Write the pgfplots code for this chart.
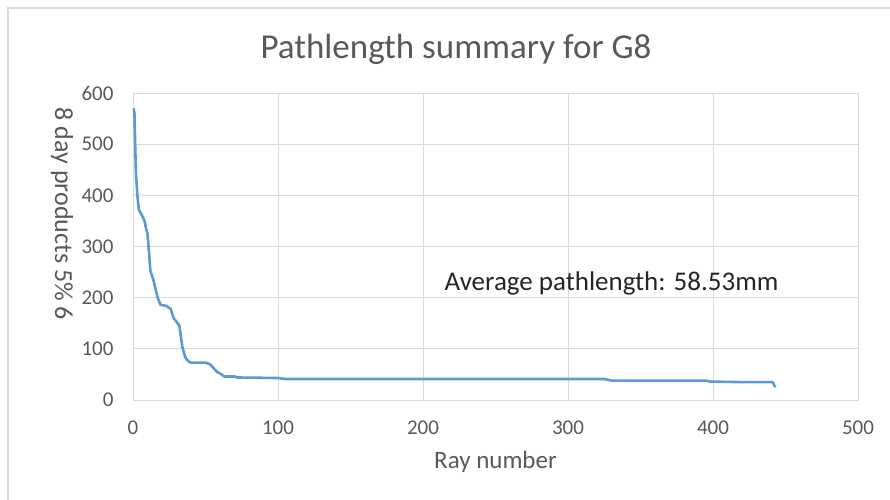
\documentclass[border=0pt]{standalone}
\usepackage{pgfplots}
\pgfplotsset{compat=1.18}
\usepackage{fontspec}
\setmainfont{Carlito}
\definecolor{exblue}{HTML}{5B9BD5}
\definecolor{txtgray}{HTML}{595959}
\definecolor{gridgray}{HTML}{D9D9D9}
\begin{document}
\begin{tikzpicture}[x=1pt,y=1pt]
\useasboundingbox (0,0) rectangle (890,499);
\fill[white] (0,0) rectangle (890,499);
\draw[gridgray, line width=1.2pt] (8,-2) -- (8,491) -- (892,491);
\node[txtgray, font=\fontsize{35}{40}\selectfont] at (456,450) {Pathlength summary for G8};
\node[txtgray, font=\fontsize{26}{30}\selectfont, rotate=-90] at (62,285) {8 day products 5\% 6};
\begin{axis}[
  at={(133pt,99pt)}, anchor=origin,
  scale only axis, width=725pt, height=307pt,
  xmin=0, xmax=500, ymin=0, ymax=600,
  xtick={0,100,...,500}, ytick={0,100,...,600},
  grid=major,
  major grid style={gridgray, line width=1pt},
  axis line style={gridgray, line width=1pt},
  tick style={draw=none},
  ticklabel style={txtgray, font=\fontsize{21}{24}\selectfont},
  /pgf/number format/assume math mode=true,
  xticklabel style={yshift=-17pt},
  yticklabel style={xshift=-16pt},
  xlabel={Ray number},
  xlabel style={txtgray, font=\fontsize{25}{28}\selectfont, at={(axis description cs:0.5,0)}, anchor=center, yshift=-62pt},
  clip=false,
]
\addplot[exblue, line width=2.6pt, line join=round] coordinates {
(0.5,570) (1,560) (1.5,500) (2,445) (3,400) (4,372) (6,362) (8,350) (9,335) (10,325) (11,290) (12,252) (14,235) (16,212) (17,200) (19,186) (23,184) (26,178) (28,160) (30,153) (32,145) (33,125) (34,104) (36,84) (38,76) (40,73) (44,73) (50,73) (53,70) (55,64) (58,55) (61,50) (63,46) (70,46) (72,44) (100,43) (105,41) (200,41) (325,41) (330,38) (395,38) (398,36) (420,35) (441,35) (443,25)
};
\node[black!85, font=\fontsize{27}{30}\selectfont] at (axis cs:330,227) {Average pathlength: 58.53mm};
\end{axis}
\end{tikzpicture}
\end{document}
